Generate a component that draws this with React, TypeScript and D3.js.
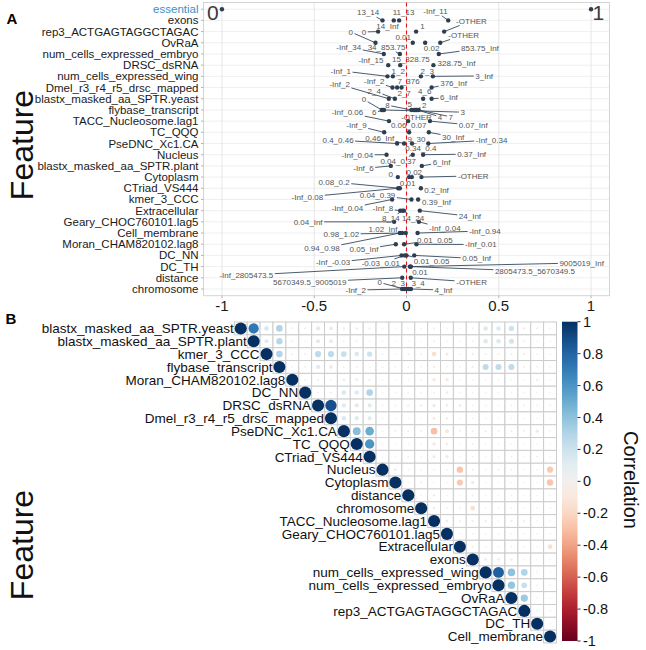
import React from 'react';
import * as d3 from 'd3';

// ---- panel A: break-down of feature bins ----
const featuresA = [
  'essential', 'exons', 'rep3_ACTGAGTAGGCTAGAC', 'OvRaA', 'num_cells_expressed_embryo',
  'DRSC_dsRNA', 'num_cells_expressed_wing', 'Dmel_r3_r4_r5_drsc_mapped', 'blastx_masked_aa_SPTR.yeast',
  'flybase_transcript', 'TACC_Nucleosome.lag1', 'TC_QQQ', 'PseDNC_Xc1.CA', 'Nucleus',
  'blastx_masked_aa_SPTR.plant', 'Cytoplasm', 'CTriad_VS444', 'kmer_3_CCC', 'Extracellular',
  'Geary_CHOC760101.lag5', 'Cell_membrane', 'Moran_CHAM820102.lag8', 'DC_NN', 'DC_TH',
  'distance', 'chromosome',
];

// [row, contribution, bin label, label anchor (x value), label anchor (row)]
const binPoints: [number, number, string, number, number][] = [
  [0, -1, '0', -1.05, 0.3], [0, 1, '1', 1.04, 0.3],
  [1, -0.13, '13_14', -0.208, 0.3], [1, -0.04, '11_13', -0.016, 0.3], [1, 0.226, '-Inf_11', 0.157, 0.18], [1, -0.069, '14_Inf', -0.103, 1.49],
  [2, -0.154, '0', -0.23, 2.03], [2, 0.052, '1', 0.087, 1.49], [2, 0.204, '-OTHER', 0.352, 1.04],
  [3, -0.168, '0', -0.302, 2.03], [3, 0.034, '0.01', -0.018, 2.53], [3, 0.101, '0.02', 0.136, 3.52], [3, 0.183, '-OTHER', 0.31, 2.29],
  [4, -0.123, '-Inf_34', -0.313, 3.4], [4, -0.036, '34_853.75', -0.108, 3.4], [4, 0.175, '853.75_Inf', 0.398, 3.52],
  [5, -0.099, '-Inf_15', -0.193, 4.56], [5, -0.034, '15_328.75', 0.024, 4.5], [5, 0.146, '328.75_Inf', 0.271, 4.8],
  [6, -0.103, '-Inf_1', -0.356, 5.5], [6, -0.074, '1_2', -0.045, 5.54], [6, 0.078, '2_3', 0.112, 5.5], [6, 0.143, '3_Inf', 0.421, 5.96],
  [7, -0.076, '-Inf_2', -0.175, 6.44], [7, -0.051, '2_7', -0.013, 7.5], [7, -0.027, '7_376', 0.011, 6.44], [7, 0.136, '376_Inf', 0.255, 6.6],
  [8, -0.096, '-Inf_2', -0.362, 6.73], [8, -0.063, '2_4', -0.175, 7.3], [8, 0.09, '4_6', 0.099, 7.3], [8, 0.136, '6_Inf', 0.23, 7.9],
  [9, -0.134, '0', -0.231, 8.07], [9, -0.128, '3', 0.304, 9.2], [9, -0.122, '6', -0.175, 9.24], [9, 0.027, '8', -0.103, 8.58],
  [9, 0.04, '5', 0.018, 8.45], [9, 0.052, '2', 0.096, 8.58], [9, 0.058, '4', 0.181, 9.62], [9, 0.066, '7', 0.24, 9.62], [9, 0.046, '-OTHER', 0.054, 9.62],
  [10, -0.095, '-Inf_0.06', -0.32, 9.24], [10, 0.009, '0.06_0.07', 0.012, 10.37], [10, 0.127, '0.07_Inf', 0.362, 10.37],
  [11, -0.121, '-Inf_9', -0.271, 10.4], [11, 0.014, '9_30', 0.054, 11.6], [11, 0.121, '30_Inf', 0.253, 11.4],
  [12, -0.051, '0.4_0.46', -0.371, 11.7], [12, -0.013, '0.46_Inf', -0.145, 11.5], [12, 0.03, '0.34_0.4', 0.078, 12.45], [12, 0.118, '-Inf_0.34', 0.461, 11.7],
  [13, -0.108, '-Inf_0.04', -0.266, 13.02], [13, 0.034, '0.04_0.37', -0.045, 13.56], [13, 0.09, '0.37_Inf', 0.353, 12.95],
  [14, -0.085, '-Inf_6', -0.233, 14.24], [14, 0.083, '6_Inf', 0.19, 13.7],
  [15, -0.047, '0', -0.085, 14.7], [15, 0.014, '0.01', 0.006, 15.58], [15, 0.029, '0.02', 0.042, 14.54], [15, 0.081, '-OTHER', 0.362, 14.9],
  [16, -0.045, '-Inf_0.08', -0.537, 16.77], [16, -0.036, '0.08_0.2', -0.392, 15.45], [16, 0.078, '0.2_Inf', 0.163, 16.2],
  [17, -0.078, '-Inf_0.04', -0.32, 17.81], [17, 0.027, '0.04_0.39', -0.157, 16.62], [17, 0.063, '0.39_Inf', 0.163, 17.28],
  [18, -0.034, '-Inf_8', -0.127, 17.81], [18, -0.022, '8_14', -0.085, 18.7], [18, -0.014, '14_24', 0.036, 18.7], [18, 0.072, '24_Inf', 0.344, 18.5],
  [19, -0.067, '0.04_Inf', -0.533, 19.0], [19, 0.067, '-Inf_0.04', 0.208, 19.6],
  [20, -0.036, '0.94_0.98', -0.458, 21.4], [20, -0.024, '0.98_1.02', -0.353, 20.1], [20, -0.004, '1.02_Inf', -0.127, 19.7], [20, 0.06, '-Inf_0.94', 0.425, 19.81],
  [21, -0.058, '0.05_Inf', -0.23, 21.45], [21, -0.013, '0.01_0.05', 0.154, 20.64], [21, 0.054, '-Inf_0.01', 0.403, 21.03],
  [22, -0.027, '-Inf_-0.03', -0.398, 22.64], [22, -0.009, '-0.03_0.01', -0.139, 22.73], [22, 0.0, '0.01_0.05', 0.136, 22.52], [22, 0.042, '0.05_Inf', 0.38, 22.28],
  [23, -0.012, '-Inf_2805473.5', -0.868, 23.77], [23, 0.023, '9005019_Inf', 0.949, 22.67], [23, 0.018, '2805473.5_5670349.5', 0.696, 23.41], [23, 0.023, '0.01', 0.073, 23.47],
  [24, -0.023, '5670349.5_9005019', -0.524, 24.37], [24, 0.023, '-OTHER', 0.353, 24.37],
  [25, -0.024, '-Inf_2', -0.275, 25.1], [25, -0.012, '0', -0.145, 24.42], [25, 0.0, '2_3', -0.045, 24.51], [25, 0.012, '3_4', 0.063, 24.51], [25, 0.024, '4_Inf', 0.2, 25.1],
];

const xTicksA = [-1, -0.5, 0, 0.5, 1];

// ---- panel B: correlation matrix (upper triangle) ----
const featuresB = [
  'blastx_masked_aa_SPTR.yeast', 'blastx_masked_aa_SPTR.plant', 'kmer_3_CCC', 'flybase_transcript',
  'Moran_CHAM820102.lag8', 'DC_NN', 'DRSC_dsRNA', 'Dmel_r3_r4_r5_drsc_mapped', 'PseDNC_Xc1.CA',
  'TC_QQQ', 'CTriad_VS444', 'Nucleus', 'Cytoplasm', 'distance', 'chromosome',
  'TACC_Nucleosome.lag1', 'Geary_CHOC760101.lag5', 'Extracellular', 'exons',
  'num_cells_expressed_wing', 'num_cells_expressed_embryo', 'OvRaA', 'rep3_ACTGAGTAGGCTAGAC',
  'DC_TH', 'Cell_membrane',
];

// row i holds r(i, j) for j = i+1 .. 24
const corrUpper: number[][] = [
  [0.72, 0.15, 0.30, -0.03, 0.03, 0.12, 0.10, 0.05, 0.04, 0.04, 0.02, -0.02, 0.02, -0.02, 0.03, -0.02, 0.02, 0.03, 0.14, 0.14, 0.20, 0.04, 0.03, 0.02],
  [0.12, 0.28, -0.03, -0.02, 0.12, 0.10, -0.03, 0.03, 0.02, 0.02, -0.02, 0.02, -0.02, 0.03, 0.02, -0.02, 0.03, 0.14, 0.14, 0.18, 0.03, 0.02, 0.02],
  [0.30, 0.03, 0.03, 0.26, 0.26, 0.22, 0.15, 0.20, 0.02, 0.02, 0.03, 0.03, -0.15, -0.08, 0.02, -0.05, 0.03, -0.03, 0.03, -0.04, 0.02, 0.02],
  [0.02, 0.02, 0.12, 0.10, 0.02, 0.03, 0.02, 0.03, 0.02, 0.02, 0.02, -0.04, 0.02, 0.02, -0.04, 0.25, 0.25, 0.25, 0.03, 0.02, 0.02],
  [0.03, 0.03, 0.02, 0.06, 0.06, 0.04, 0.02, 0.02, 0.02, 0.02, -0.08, -0.09, 0.02, 0.02, 0.02, 0.02, 0.02, 0.02, -0.04, 0.02],
  [0.03, 0.03, 0.15, 0.13, 0.30, 0.02, 0.02, 0.02, 0.02, -0.03, -0.06, 0.02, 0.02, 0.02, 0.02, 0.02, 0.02, 0.02, 0.02],
  [0.88, 0.12, 0.12, 0.12, 0.02, 0.03, 0.04, -0.04, -0.08, -0.05, 0.05, 0.03, 0.02, 0.02, 0.02, 0.03, 0.02, -0.03],
  [0.14, 0.13, 0.12, 0.02, 0.02, 0.02, 0.02, -0.07, -0.05, 0.02, 0.02, 0.02, 0.02, 0.02, 0.02, 0.02, 0.02],
  [0.42, 0.50, 0.02, 0.03, 0.03, 0.03, -0.30, -0.10, 0.03, 0.03, 0.04, 0.03, 0.03, 0.03, 0.08, 0.02],
  [0.60, 0.02, 0.02, 0.02, 0.02, -0.08, -0.06, 0.02, 0.03, 0.02, 0.02, 0.02, 0.02, 0.02, 0.02],
  [0.02, 0.02, 0.03, 0.02, -0.08, -0.08, 0.02, 0.02, 0.02, 0.02, 0.03, 0.02, 0.03, 0.02],
  [0.06, 0.02, 0.02, 0.02, 0.02, -0.28, -0.04, 0.02, -0.03, 0.02, 0.02, 0.02, -0.26],
  [0.02, -0.03, 0.02, 0.02, -0.26, -0.08, 0.02, 0.02, 0.02, 0.02, 0.02, -0.28],
  [0.02, -0.05, 0.02, 0.02, 0.03, 0.02, 0.02, 0.02, 0.02, 0.02, -0.02],
  [-0.05, 0.02, -0.03, -0.15, 0.02, 0.02, 0.02, 0.02, 0.02, 0.02],
  [0.06, -0.03, -0.04, -0.05, 0.02, -0.05, -0.05, 0.02, 0.02],
  [0.02, 0.02, 0.02, 0.02, 0.02, 0.02, 0.02, 0.02],
  [0.04, 0.02, 0.02, 0.02, 0.02, 0.02, -0.15],
  [-0.06, -0.06, -0.05, 0.02, 0.02, 0.02],
  [0.82, 0.40, 0.30, 0.02, 0.02],
  [0.38, 0.22, 0.02, 0.02],
  [0.36, 0.02, 0.02],
  [0.02, 0.02],
  [0.02],
  [],
];

const legendTicks = [1, 0.8, 0.6, 0.4, 0.2, 0, -0.2, -0.4, -0.6, -0.8, -1];

const FONT = '"Liberation Sans", Arial, Helvetica, sans-serif';

// rough Arial advance widths, enough to size the repel label boxes
const charW = (c: string) => {
  if ('.I f'.includes(c)) return 0.278;
  if (c === '-') return 0.333;
  if ('OR'.includes(c)) return 0.76;
  if ('TEH'.includes(c)) return 0.68;
  return 0.556;
};
const textWidth = (s: string, size: number) => s.split('').reduce((a, c) => a + charW(c), 0) * size;

export default function App() {
  const xA = d3.scaleLinear().domain([-1.1, 1.1]).range([203.5, 609.5]);
  const yA = d3.scaleLinear().domain([-0.6, 25.6]).range([2.5, 295.7]);
  const [ax0, ax1] = xA.range();
  const [ay0, ay1] = yA.range();

  const labSize = 8;
  const marks = binPoints.map(([row, v, lab, lx, ly], i) => {
    const px = xA(v), py = yA(row);
    const cx = xA(lx), cy = yA(ly);
    const big = row === 0;
    const size = big ? 21 : labSize;
    const hw = textWidth(lab, size) / 2 + 1.5;
    const hh = size * 0.45 + 1;
    const dx = px - cx, dy = py - cy;
    let seg: number[] | null = null;
    if (Math.abs(dx) > hw || Math.abs(dy) > hh) {
      const s = 1 / Math.max(Math.abs(dx) / hw, Math.abs(dy) / hh);
      const ex = cx + dx * s, ey = cy + dy * s;
      if (Math.hypot(px - ex, py - ey) > 4 && !big) seg = [px, py, ex, ey];
    }
    return { i, px, py, cx, cy, lab, size, big, seg };
  });

  // panel B geometry
  const xB = d3.scaleBand<string>().domain(featuresB).range([234.3, 556.5]);
  const yB = d3.scaleBand<string>().domain(featuresB).range([322, 643]);
  const cell = xB.bandwidth();
  const cellH = yB.bandwidth();
  const color = (r: number) => d3.interpolateRdBu((r + 1) / 2);
  const cells: { i: number; j: number; r: number }[] = [];
  featuresB.forEach((_, i) => {
    cells.push({ i, j: i, r: 1 });
    corrUpper[i].forEach((r, k) => cells.push({ i, j: i + 1 + k, r }));
  });

  const yLeg = d3.scaleLinear().domain([-1, 1]).range([641, 321.7]);
  const gradStops = d3.range(0, 1.0001, 0.05);

  return (
    <svg width={646} height={650} style={{ position: 'absolute', left: 0, top: 0, background: '#fff' }} fontFamily={FONT}>
      <defs>
        <linearGradient id="rdbu" x1="0" y1="1" x2="0" y2="0">
          {gradStops.map(t => <stop key={t} offset={t} stopColor={d3.interpolateRdBu(t)} />)}
        </linearGradient>
      </defs>

      {/* ---------- A ---------- */}
      <text x={12} y={24} fontSize={15} fontWeight="bold" textAnchor="middle">A</text>
      <text transform="translate(33,145) rotate(-90)" fontSize={32} textAnchor="middle" fill="#111">Feature</text>

      <rect x={ax0} y={ay0} width={ax1 - ax0} height={ay1 - ay0} fill="#fff" />
      {featuresA.map((_, r) => (
        <line key={'h' + r} x1={ax0} x2={ax1} y1={yA(r)} y2={yA(r)} stroke="#ebebeb" strokeWidth={0.8} />
      ))}
      {xTicksA.map(t => (
        <line key={'v' + t} x1={xA(t)} x2={xA(t)} y1={ay0} y2={ay1} stroke="#e3e3e3" strokeWidth={0.9} />
      ))}
      <rect x={ax0} y={ay0} width={ax1 - ax0} height={ay1 - ay0} fill="none" stroke="#d4d4d4" strokeWidth={1} />
      <line x1={xA(0)} x2={xA(0)} y1={ay0} y2={ay1} stroke="#e8141c" strokeWidth={1.1} strokeDasharray="4,3" />

      {featuresA.map((f, r) => (
        <g key={'yl' + r}>
          <line x1={ax0 - 2.5} x2={ax0} y1={yA(r)} y2={yA(r)} stroke="#b3b3b3" />
          <text x={ax0 - 5} y={yA(r)} dy="0.35em" fontSize={11.5} textAnchor="end" fill={r === 0 ? '#3d8fc6' : '#1a1a1a'}>{f}</text>
        </g>
      ))}
      {xTicksA.map(t => (
        <g key={'xt' + t}>
          <line x1={xA(t)} x2={xA(t)} y1={ay1} y2={ay1 + 2.5} stroke="#b3b3b3" />
          <text x={xA(t)} y={306} dy="0.35em" fontSize={15} textAnchor="middle" fill="#1a1a1a">{t}</text>
        </g>
      ))}

      {marks.map(m => m.seg && (
        <line key={'s' + m.i} x1={m.seg[0]} y1={m.seg[1]} x2={m.seg[2]} y2={m.seg[3]} stroke="#34495e" strokeWidth={0.9} />
      ))}
      {marks.map(m => (
        <circle key={'p' + m.i} cx={m.px} cy={m.py} r={2.2} fill="#2c3e50" />
      ))}
      {marks.map(m => (
        <text key={'l' + m.i} x={m.cx} y={m.cy} dy="0.35em" fontSize={m.size} textAnchor="middle" fill={m.big ? '#3a3a3a' : '#555'}>{m.lab}</text>
      ))}

      {/* ---------- B ---------- */}
      <text x={11} y={324} fontSize={15} fontWeight="bold" textAnchor="middle">B</text>
      <text transform="translate(33,545) rotate(-90)" fontSize={32} textAnchor="middle" fill="#111">Feature</text>

      {cells.map(c => (
        <rect key={'c' + c.i + '_' + c.j} x={xB(featuresB[c.j])} y={yB(featuresB[c.i])} width={cell} height={cellH}
          fill="#fff" stroke="#cccccc" strokeWidth={1} />
      ))}
      {cells.map(c => (
        <circle key={'cc' + c.i + '_' + c.j} cx={xB(featuresB[c.j])! + cell / 2} cy={yB(featuresB[c.i])! + cellH / 2}
          r={(cell / 2 - 0.4) * Math.sqrt(Math.abs(c.r))} fill={color(c.r)} />
      ))}
      {featuresB.map((f, i) => (
        <text key={'bl' + i} x={xB(f)! - 0.5} y={yB(f)! + cellH / 2} dy="0.35em" fontSize={13.5} textAnchor="end" fill="#111">{f}</text>
      ))}

      <rect x={562} y={yLeg(1)} width={15.5} height={yLeg(-1) - yLeg(1)} fill="url(#rdbu)" />
      {legendTicks.map(t => (
        <g key={'lg' + t}>
          <line x1={577.5} x2={580.5} y1={yLeg(t)} y2={yLeg(t)} stroke="#333" />
          <text x={583} y={yLeg(t)} dy="0.35em" fontSize={14.5} fill="#111">{t}</text>
        </g>
      ))}
      <text transform="translate(624,480) rotate(90)" fontSize={20} textAnchor="middle" fill="#111">Correlation</text>
    </svg>
  );
}
